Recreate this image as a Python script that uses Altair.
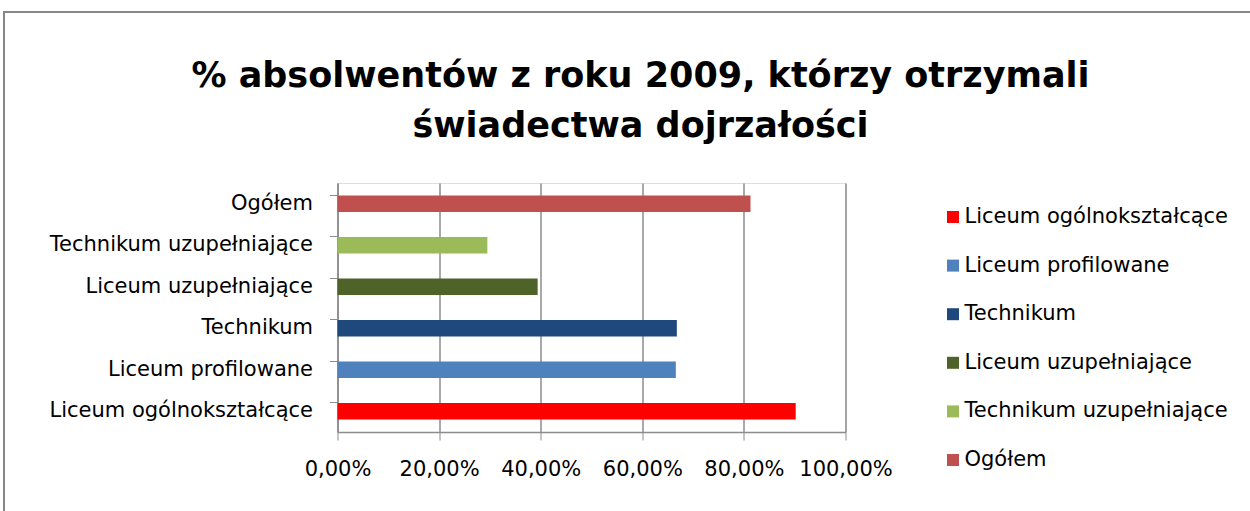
import altair as alt
import pandas as pd

categories = [
    "Liceum ogólnokształcące",
    "Liceum profilowane",
    "Technikum",
    "Liceum uzupełniające",
    "Technikum uzupełniające",
    "Ogółem",
]
values = [0.902, 0.666, 0.668, 0.394, 0.295, 0.813]
colors = ["#FF0000", "#4F81BD", "#1F497D", "#4F6228", "#9BBB59", "#C0504D"]
x_ticks = [0, 0.2, 0.4, 0.6, 0.8, 1.0]

df = pd.DataFrame({"kategoria": categories, "wartosc": values})

FONT = "DejaVu Sans"

bars = alt.Chart(df).mark_bar(size=16.5).encode(
    x=alt.X(
        "wartosc:Q",
        scale=alt.Scale(domain=[0, 1], nice=False),
        axis=alt.Axis(
            values=x_ticks,
            labelExpr="replace(format(datum.value, '.2%'), '.', ',')",
            title=None,
            grid=True,
            gridColor="#8C8C8C",
            gridWidth=1.5,
            domainColor="#8C8C8C",
            domainWidth=1.5,
            tickColor="#8C8C8C",
            tickSize=8,
            labelPadding=18,
            labelFontSize=21,
            labelFont=FONT,
            labelColor="#000000",
            labelOverlap=False,
            labelFlush=False,
            labelBound=False,
        ),
    ),
    y=alt.Y(
        "kategoria:N",
        sort=list(reversed(categories)),
        scale=alt.Scale(paddingInner=0.6, paddingOuter=0.3),
        axis=alt.Axis(
            title=None,
            domainColor="#8C8C8C",
            domainWidth=1.5,
            tickColor="#8C8C8C",
            tickSize=8,
            bandPosition=0,
            labelPadding=17,
            labelFontSize=21,
            labelFont=FONT,
            labelColor="#000000",
            labelLimit=400,
        ),
    ),
    color=alt.Color(
        "kategoria:N",
        sort=categories,
        scale=alt.Scale(domain=categories, range=colors),
        legend=alt.Legend(
            title=None,
            orient="none",
            legendX=605,
            legendY=23.5,
            symbolType="square",
            symbolSize=144,
            symbolStrokeWidth=0,
            labelFontSize=21,
            labelFont=FONT,
            labelColor="#000000",
            labelLimit=400,
            rowPadding=26.6,
            labelOffset=1,
        ),
    ),
)

frame = alt.Chart(alt.Data(values=[{}])).mark_rect(
    fill=None, stroke="#868686", strokeWidth=2
).encode(
    x=alt.value(-333.5), x2=alt.value(920), y=alt.value(-171), y2=alt.value(340)
)

chart = alt.layer(frame, bars).properties(
    width=508,
    height=249,
    autosize=alt.AutoSizeParams(type="none"),
    padding={"left": 337.5, "top": 183, "right": 404.5, "bottom": 79},
    title=alt.TitleParams(
        text=["% absolwentów z roku 2009, którzy otrzymali", "świadectwa dojrzałości"],
        font=FONT,
        fontSize=35,
        fontWeight="bold",
        color="#000000",
        anchor="middle",
        dx=49,
        offset=-133,
        lineHeight=50,
    ),
).configure_view(stroke=None).configure(background="white")

chart.save("out.html", embed_options={"renderer": "svg", "actions": False})
